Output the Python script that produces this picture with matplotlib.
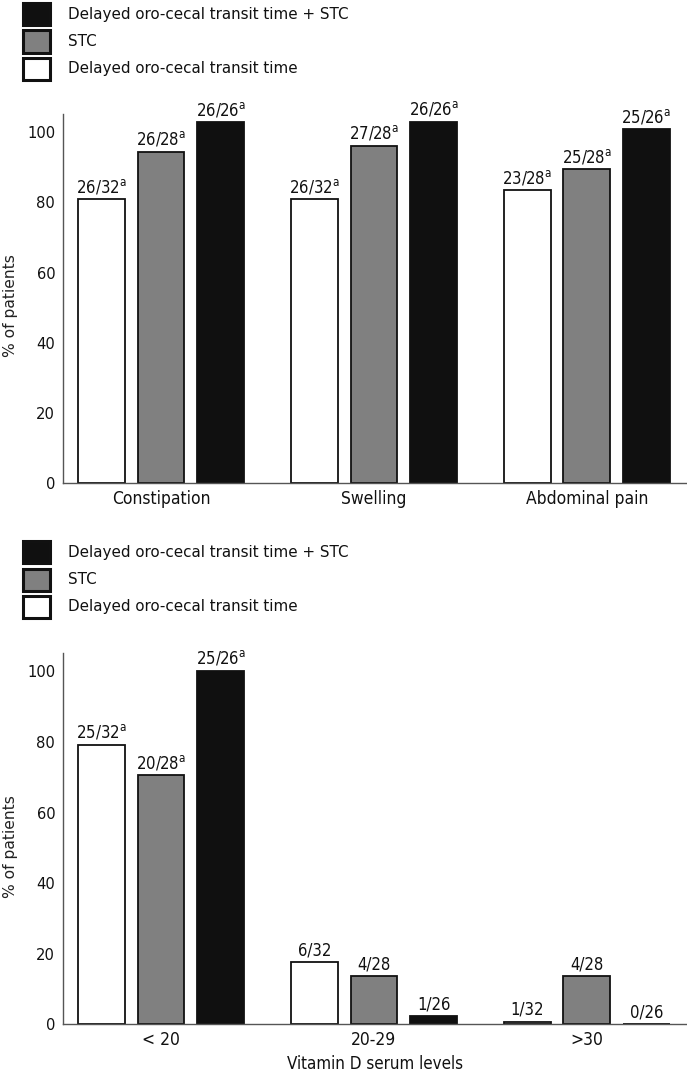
import numpy as np
import matplotlib
matplotlib.use("Agg")
import matplotlib.pyplot as plt
from matplotlib.patches import Rectangle

plt.rcParams['font.family'] = ['DejaVu Sans']
plt.rcParams['font.stretch'] = 'condensed'
plt.rcParams['mathtext.default'] = 'regular'

# series names (legend order is top to bottom)
series_names = ['Delayed oro-cecal transit time', 'STC', 'Delayed oro-cecal transit time + STC']
series_colors = ['#ffffff', '#808080', '#101010']

# upper panel: symptoms
symptom_cats = ['Constipation', 'Swelling', 'Abdominal pain']
symptom_delayed = [81.0, 81.0, 83.6]
symptom_stc = [94.5, 96.2, 89.4]
symptom_both = [102.8, 103.0, 100.8]
symptom_lbl_delayed = ['26/32', '26/32', '23/28']
symptom_lbl_stc = ['26/28', '27/28', '25/28']
symptom_lbl_both = ['26/26', '26/26', '25/26']
symptom_sig_delayed = [True, True, True]
symptom_sig_stc = [True, True, True]
symptom_sig_both = [True, True, True]

# lower panel: vitamin D serum levels
vitd_cats = ['< 20', '20-29', '>30']
vitd_delayed = [79.3, 17.7, 0.8]
vitd_stc = [70.6, 13.6, 13.6]
vitd_both = [100.2, 2.4, 0.0]
vitd_lbl_delayed = ['25/32', '6/32', '1/32']
vitd_lbl_stc = ['20/28', '4/28', '4/28']
vitd_lbl_both = ['25/26', '1/26', '0/26']
vitd_sig_delayed = [True, False, False]
vitd_sig_stc = [True, False, False]
vitd_sig_both = [True, False, False]

yticks = [0, 20, 40, 60, 80, 100]

W, H = 687, 1076


def draw_panel(ax, cats, values, labels, sigs, ylab_y, xlabel=None):
    x = np.arange(len(cats))
    step, width = 0.28, 0.22
    for k in range(3):
        b = ax.bar(x + (k - 1) * step, values[k], width, color=series_colors[k],
                   edgecolor='#111111', linewidth=1.3, label=series_names[k])
        for rect, lbl, sig in zip(b, labels[k], sigs[k]):
            txt = lbl + (r'$^{a}$' if sig else '')
            ax.annotate(txt, (rect.get_x() + rect.get_width() / 2, rect.get_height()),
                        xytext=(0, 2), textcoords='offset points',
                        ha='center', va='bottom', fontsize=12, color='#111111')
    ax.set_xlim(-0.458, 2.47)
    ax.set_ylim(0, 105.2)
    ax.set_yticks(yticks)
    ax.set_xticks(x)
    ax.set_xticklabels(cats, fontsize=12.5)
    ax.tick_params(axis='y', labelsize=11.8)
    ax.tick_params(length=0, colors='#111111')
    ax.tick_params(axis='y', pad=6)
    ax.tick_params(axis='x', pad=5)
    for s in ['top', 'right']:
        ax.spines[s].set_visible(False)
    for s in ['left', 'bottom']:
        ax.spines[s].set_color('#555555')
        ax.spines[s].set_linewidth(1.0)
    ax.set_ylabel('% of patients', fontsize=11.2, family='DejaVu Sans',
                  fontstretch='normal', color='#222222')
    ax.yaxis.set_label_coords(-0.073, ylab_y)
    if xlabel:
        ax.set_xlabel(xlabel, fontsize=12.2, color='#111111')
        ax.xaxis.set_label_coords(0.5, -0.082)


def draw_legend(fig, y0):
    # y0: top pixel of the legend block
    rows = [(series_names[2], series_colors[2]), (series_names[1], series_colors[1]),
            (series_names[0], series_colors[0])]
    for i, (name, col) in enumerate(rows):
        top = y0 + 3 + i * 27.5
        fig.patches.append(Rectangle((23 / W, 1 - (top + 22) / H), 27 / W, 22 / H,
                                     transform=fig.transFigure, facecolor=col,
                                     edgecolor='#111111', linewidth=2.2))
        fig.text(68 / W, 1 - (top + 11) / H, name, fontsize=10.9, family='DejaVu Sans',
                 fontstretch='normal', va='center', ha='left', color='#111111')


fig = plt.figure(figsize=(W / 100, H / 100), dpi=100)
ax1 = fig.add_axes([0.0924, 0.551, 0.9076, 0.343])
ax2 = fig.add_axes([0.0924, 0.048, 0.9076, 0.345])

draw_panel(ax1, symptom_cats, [symptom_delayed, symptom_stc, symptom_both],
           [symptom_lbl_delayed, symptom_lbl_stc, symptom_lbl_both],
           [symptom_sig_delayed, symptom_sig_stc, symptom_sig_both], 0.48)
draw_panel(ax2, vitd_cats, [vitd_delayed, vitd_stc, vitd_both],
           [vitd_lbl_delayed, vitd_lbl_stc, vitd_lbl_both],
           [vitd_sig_delayed, vitd_sig_stc, vitd_sig_both], 0.478,
           xlabel='Vitamin D serum levels')

draw_legend(fig, 0)
draw_legend(fig, 538)

fig.savefig('out.png', dpi=100)
